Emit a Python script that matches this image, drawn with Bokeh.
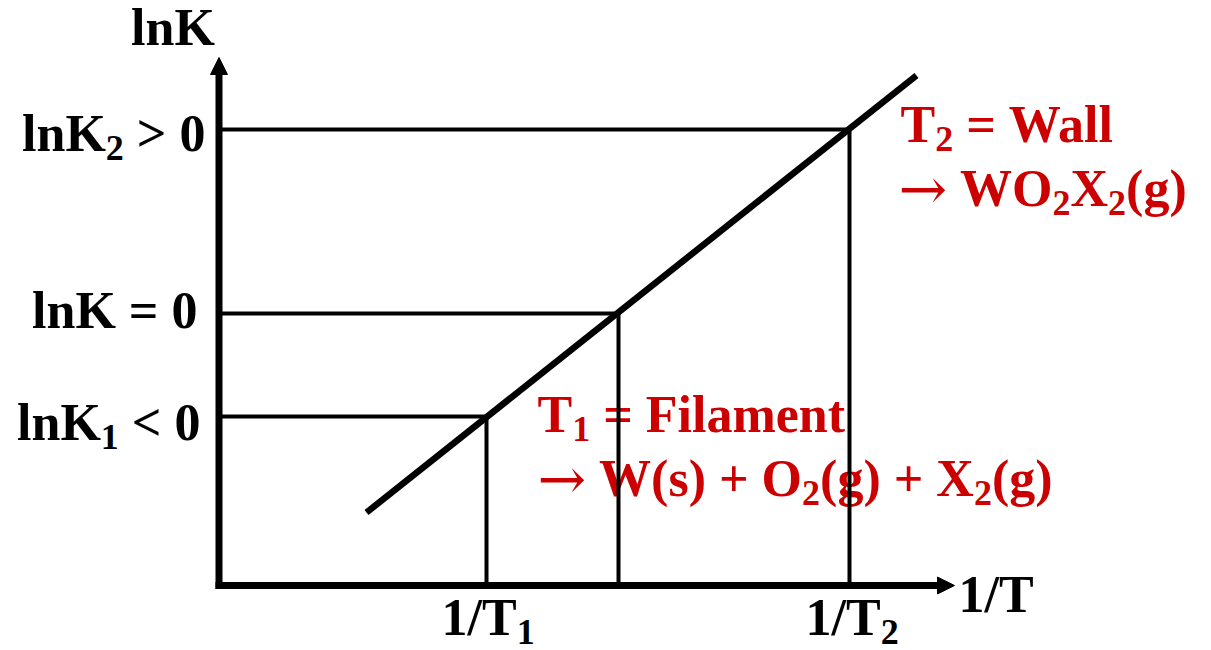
from bokeh.plotting import figure
from bokeh.models import Range1d, Arrow, NormalHead, ColumnDataSource
from bokeh.core.properties import value
from bokeh.embed import file_html
from bokeh.resources import INLINE

# ---- data (1/T in arbitrary units, lnK) ----
inv_T = [2.675, 3.995, 6.305]          # 1/T1, 1/T(lnK=0), 1/T2
lnK_vals = [-1.03, 0.0, 1.84]           # lnK1, 0, lnK2
line_x = [1.475, 6.975]                 # straight van 't Hoff line
line_y = [-1.99, 2.38]
axis_origin = (0.0, -2.72)
x_axis_end = 7.355
y_axis_end = 2.56

NB = "\u00a0"
y_tick_labels = [
    [("lnK", 0), ("1", 1), (NB + "<" + NB + "0", 0)],
    [("lnK" + NB + "=" + NB + "0", 0)],
    [("lnK", 0), ("2", 1), (NB + ">" + NB + "0", 0)],
]
x_tick_labels = [
    [("1/T", 0), ("1", 1)],
    None,
    [("1/T", 0), ("2", 1)],
]
x_title = [("1/T", 0)]
y_title = [("lnK", 0)]
note_T2 = [[("T", 0), ("2", 1), (NB + "=" + NB + "Wall", 0)],
           [("\u2192", 2), (NB + "WO", 0), ("2", 1), ("X", 0), ("2", 1), ("(g)", 0)]]
note_T1 = [[("T", 0), ("1", 1), (NB + "=" + NB + "Filament", 0)],
           [("\u2192", 2), (NB + "W(s)" + NB + "+" + NB + "O", 0), ("2", 1),
            ("(g)" + NB + "+" + NB + "X", 0), ("2", 1), ("(g)", 0)]]

RED = "#CC0000"
FONT = "Liberation Serif"
ARROW_FONT = "DejaVu Serif"
MAIN, SUB, SUB_DY, ARW = 52, 36, 14, 58
BASE_FIX = -18  # renderer places alphabetic baseline lower than requested

# Times/Liberation Serif Bold advance widths (per 1000 em)
ADV = {' ': 250, NB: 250, '(': 333, ')': 333, '+': 570, '/': 278, '0': 500, '1': 500, '2': 500,
       '<': 570, '=': 570, '>': 570, 'F': 611, 'K': 778, 'O': 778, 'T': 667, 'W': 1000,
       'X': 722, 'a': 500, 'e': 444, 'g': 500, 'i': 278, 'l': 278, 'm': 833, 'n': 556,
       's': 389, 't': 333, '\u2192': 838}

W, H = 1211, 650
PX = 100.0  # pixels per data unit
X0_PAGE, Y0_PAGE = 218.5, 313.0

def X(px):
    return (px - X0_PAGE) / PX

def Y(py):
    return (Y0_PAGE - py) / PX

SIZES = {0: MAIN, 1: SUB, 2: ARW}

def run_w(s, kind):
    return sum(ADV.get(c, 500) for c in s) / 1000.0 * SIZES[kind]

p = figure(width=W, height=H, output_backend="svg", toolbar_location=None,
           x_range=Range1d(X(0), X(W)), y_range=Range1d(Y(H), Y(0)),
           min_border=0, outline_line_color=None)
p.axis.visible = False
p.grid.visible = False
p.background_fill_color = "white"
p.border_fill_color = "white"

def place(runs, x_px, base_py, color, align="left"):
    base_py = base_py + BASE_FIX
    total = sum(run_w(s, k) for s, k in runs)
    if align == "right":
        x_px = x_px - total
    elif align == "center":
        x_px = x_px - total / 2
    for flag in (0, 1, 2):
        xs, ys, ts = [], [], []
        cx = x_px
        for s, k in runs:
            if k == flag:
                xs.append(X(cx))
                ys.append(Y(base_py + (SUB_DY if k == 1 else 0)))
                ts.append(s)
            cx += run_w(s, k)
        if xs:
            p.text(x=xs, y=ys, text=ts,
                   text_font=value(ARROW_FONT if flag == 2 else FONT),
                   text_font_style="normal" if flag == 2 else "bold",
                   text_font_size=f"{SIZES[flag]}px", text_color=color,
                   text_align="left", text_baseline="alphabetic")

# red annotations (drawn underneath the lines)
place(note_T2[0], 900, 142, RED)
place(note_T2[1], 898, 206, RED)
place(note_T1[0], 537, 432, RED)
place(note_T1[1], 537, 496, RED)

# guide lines
ox, oy = axis_origin
hsrc = ColumnDataSource(dict(x0=[ox] * 3, y0=lnK_vals, x1=inv_T, y1=lnK_vals))
p.segment("x0", "y0", "x1", "y1", source=hsrc, line_color="black", line_width=4)
vsrc = ColumnDataSource(dict(x0=inv_T, y0=[oy] * 3, x1=inv_T, y1=lnK_vals))
p.segment("x0", "y0", "x1", "y1", source=vsrc, line_color="black", line_width=4)

# the straight line lnK vs 1/T
p.line(line_x, line_y, line_color="black", line_width=6.5)

# axes with arrow heads
p.add_layout(Arrow(end=NormalHead(size=17, fill_color="black", line_color="black", line_width=1),
                   x_start=ox, y_start=oy - 0.035, x_end=ox, y_end=y_axis_end,
                   line_width=7, line_color="black"))
p.add_layout(Arrow(end=NormalHead(size=17, fill_color="black", line_color="black", line_width=1),
                   x_start=ox - 0.035, y_start=oy, x_end=x_axis_end, y_end=oy,
                   line_width=7, line_color="black"))

# axis labels
place(y_title, 172.5, 45, "black", align="center")
place(x_title, 958, 612, "black")
place(y_tick_labels[2], 205, 151, "black", align="right")
place(y_tick_labels[1], 197, 328, "black", align="right")
place(y_tick_labels[0], 200, 440, "black", align="right")
place(x_tick_labels[0], 441, 635, "black")
place(x_tick_labels[2], 805, 635, "black")

open("out.html", "w").write(file_html(p, INLINE))
